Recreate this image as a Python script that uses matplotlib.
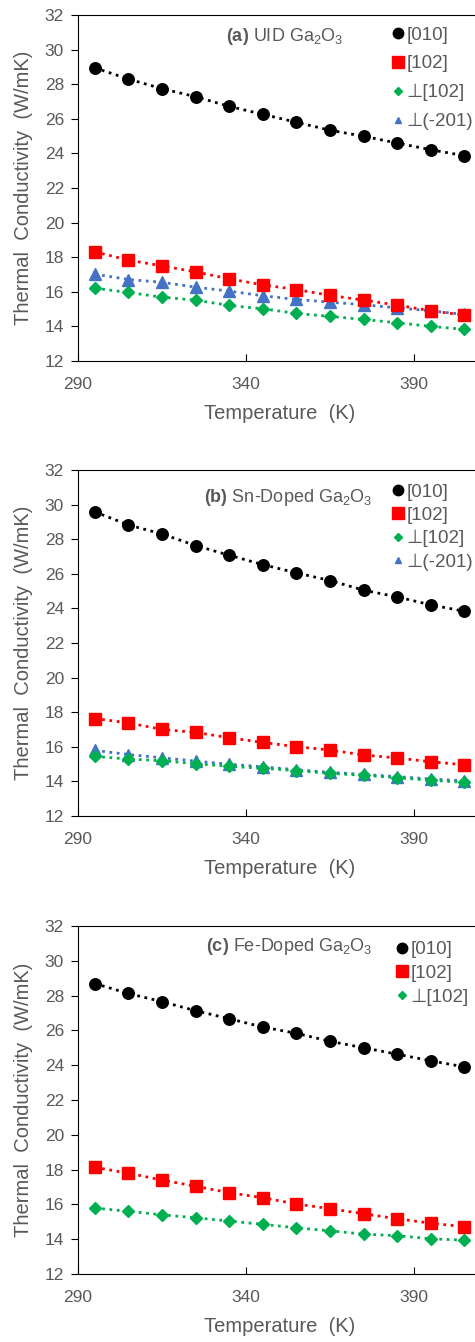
import numpy as np
import matplotlib.pyplot as plt
from matplotlib.lines import Line2D

plt.rcParams['font.family'] = ['Liberation Sans', 'DejaVu Sans']
plt.rcParams['mathtext.fontset'] = 'custom'
plt.rcParams['mathtext.rm'] = 'Liberation Sans'
plt.rcParams['mathtext.bf'] = 'Liberation Sans:bold'

# temperatures (K)
temps = [295, 305, 315, 325, 335, 345, 355, 365, 375, 385, 395, 405]

# (a) UID Ga2O3
uid_010 = [28.95, 28.3, 27.74, 27.28, 26.72, 26.26, 25.8, 25.34, 24.99, 24.6, 24.21, 23.87]
uid_102 = [18.31, 17.83, 17.5, 17.15, 16.75, 16.4, 16.13, 15.79, 15.52, 15.23, 14.9, 14.65]
uid_p102 = [16.21, 15.96, 15.69, 15.52, 15.21, 15.02, 14.75, 14.58, 14.4, 14.21, 14.0, 13.83]
uid_p201 = [17.02, 16.71, 16.55, 16.27, 16.04, 15.77, 15.56, 15.4, 15.25, 15.07, 14.9, 14.69]

# (b) Sn-doped Ga2O3
sn_010 = [29.58, 28.82, 28.3, 27.63, 27.07, 26.53, 26.05, 25.61, 25.05, 24.66, 24.2, 23.83]
sn_102 = [17.63, 17.38, 17.0, 16.83, 16.52, 16.25, 16.0, 15.81, 15.52, 15.35, 15.13, 14.96]
sn_p102 = [15.44, 15.29, 15.19, 15.02, 14.87, 14.75, 14.62, 14.46, 14.35, 14.21, 14.06, 13.94]
sn_p201 = [15.79, 15.55, 15.36, 15.17, 14.99, 14.84, 14.67, 14.52, 14.4, 14.27, 14.14, 14.03]

# (c) Fe-doped Ga2O3
fe_010 = [28.69, 28.12, 27.65, 27.13, 26.67, 26.19, 25.83, 25.37, 25.0, 24.63, 24.25, 23.9]
fe_102 = [18.13, 17.79, 17.4, 17.04, 16.67, 16.38, 16.02, 15.75, 15.46, 15.17, 14.92, 14.71]
fe_p102 = [15.79, 15.6, 15.4, 15.23, 15.04, 14.85, 14.65, 14.48, 14.29, 14.2, 14.02, 13.94]

labels = ['[010]', '[102]', '\u22a5[102]', '\u22a5(-201)']
colors = ['black', '#FF0000', '#00B050', '#4472C4']
markers = ['o', 's', 'D', '^']
msizes = [8.3, 8, 6, 8]
leg_sizes = [7.5, 8.3, 4, 5]

grey = '#595959'

# title, series, axes rect, title anchor (right end), legend anchor, labelspacing
panels = [
    (r'$\bf{(a)}$ UID Ga$_2$O$_3$', [uid_010, uid_102, uid_p102, uid_p201],
     [0.1642, 0.731, 0.849, 0.2578], (0.658, 0.937), (0.780, 0.967), 0.62),
    (r'$\bf{(b)}$ Sn-Doped Ga$_2$O$_3$', [sn_010, sn_102, sn_p102, sn_p201],
     [0.1642, 0.392, 0.849, 0.2578], (0.729, 0.919), (0.780, 0.961), 0.33),
    (r'$\bf{(c)}$ Fe-Doped Ga$_2$O$_3$', [fe_010, fe_102, fe_p102],
     [0.1642, 0.0507, 0.849, 0.2593], (0.729, 0.9405), (0.789, 0.957), 0.35),
]

fig = plt.figure(figsize=(4.75, 13.42), dpi=100)

for title, series, pos, tpos, lpos, lspace in panels:
    ax = fig.add_axes(pos)
    # draw in reverse so [010] ends on top
    for i in range(len(series))[::-1]:
        ax.plot(temps, series[i], color=colors[i], linestyle=':', linewidth=2,
                marker=markers[i], markersize=msizes[i], zorder=3 + (len(series) - i))
    ax.set_xlim(290, 410)
    ax.set_ylim(12, 32)
    ax.set_xticks([290, 340, 390])
    ax.set_yticks(np.arange(12, 33, 2))
    ax.tick_params(axis='y', direction='out', length=5, width=0.8, colors='black',
                   labelcolor=grey, labelsize=12.5, pad=5)
    ax.tick_params(axis='x', direction='in', length=5, width=0.8, colors='black',
                   labelcolor=grey, labelsize=12.5, pad=11.5)
    for s in ax.spines.values():
        s.set_linewidth(0.8)
    ax.set_ylabel('Thermal  Conductivity  (W/mK)', color=grey, fontsize=14.5)
    ax.yaxis.set_label_coords(-0.112, 0.5)
    ax.set_xlabel('Temperature  (K)', color=grey, fontsize=14.5, labelpad=9)
    ax.text(tpos[0], tpos[1], title, transform=ax.transAxes, color=grey,
            fontsize=13, ha='right', va='center')
    handles = [Line2D([], [], color=colors[i], marker=markers[i], linestyle='none',
                      markersize=leg_sizes[i]) for i in range(len(series))]
    ax.legend(handles, labels[:len(series)], loc='upper left',
              bbox_to_anchor=lpos, frameon=False, fontsize=13.5,
              labelcolor=grey, handlelength=0.6, handletextpad=0.15,
              labelspacing=lspace, borderpad=0, borderaxespad=0)

fig.savefig('out.png', dpi=100)
